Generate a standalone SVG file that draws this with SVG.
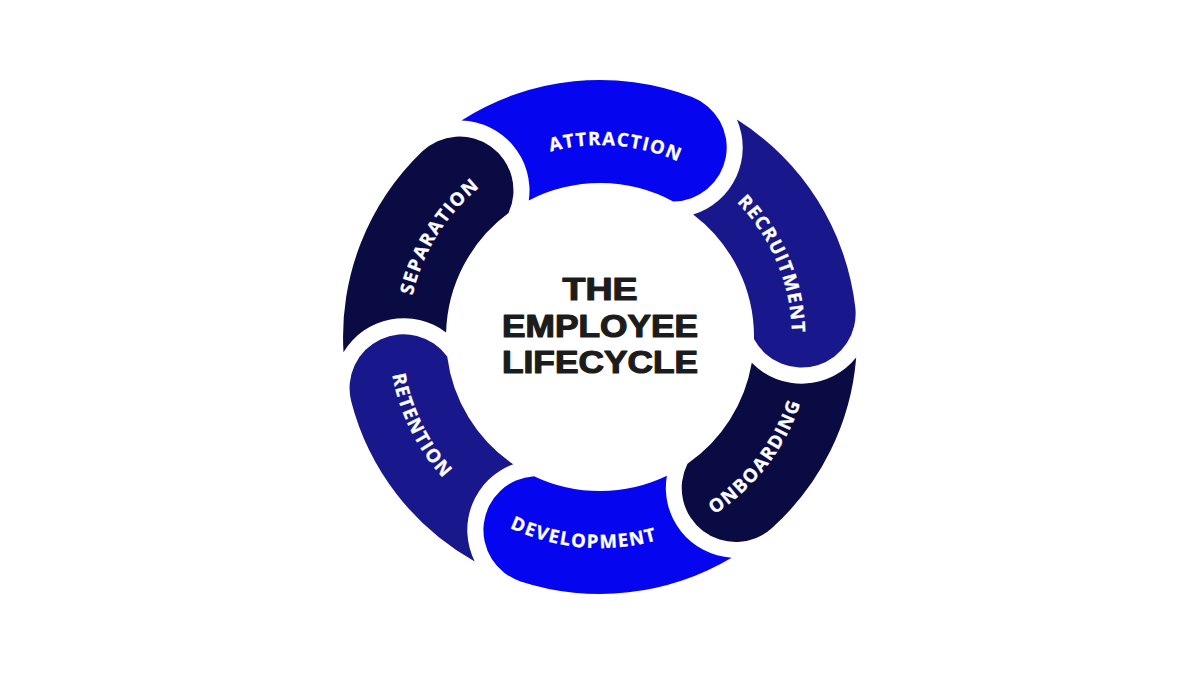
<svg xmlns="http://www.w3.org/2000/svg" width="1200" height="675" viewBox="0 0 1200 675">
  <style>
    .lbl { font-family: "Open Sans", "Liberation Sans", sans-serif; font-weight: 700; font-size: 18.5px; fill: #ffffff; stroke: #ffffff; stroke-width: 0.3px; letter-spacing: 1.4px; }
    .title { font-family: "Liberation Sans", Arial, sans-serif; font-weight: 700; font-size: 31px; fill: #1c1c1c; stroke: #1c1c1c; stroke-width: 1.2px; stroke-linejoin: round; text-anchor: middle; }
    .c1 { fill: #0505f0; }
    .c2 { fill: #18188c; }
    .c3 { fill: #0b0b44; }
  </style>
  <defs>
    <path id="tpA" d="M 442.2 227.7 A 192 192 0 0 1 773.6 254.9"/>
    <path id="tpRec" d="M 624.1 146.5 A 192 192 0 0 1 752.9 453.1"/>
    <path id="tpOnb" d="M 572.1 546.1 A 211 211 0 0 0 795.1 256.6"/>
    <path id="tpDev" d="M 409.2 427.2 A 211 211 0 0 0 773.5 457.1"/>
    <path id="tpRet" d="M 424.4 219.9 A 211 211 0 0 0 586.4 547.6"/>
    <path id="tpSep" d="M 430.5 427.1 A 192 192 0 0 1 606.7 145.1"/>
  </defs>
  <rect width="1200" height="675" fill="#ffffff"/>
  <g id="connectors"></g>
  <g id="attraction">
    <path class="c1" d="M 461.5 120.5 A 257 257 0 0 1 692.1 97.1 A 54 54 0 0 1 673.2 201.5 A 154 154 0 0 0 528.8 200.4 A 70 70 0 0 0 461.5 120.5 Z"/>
    <text class="lbl" text-anchor="middle"><textPath href="#tpA" startOffset="50%">ATTRACTION</textPath></text>
  </g>
  <g id="recruitment">
    <path class="c2" d="M 736.9 119.5 A 257 257 0 0 1 855.3 307.5 A 54 54 0 0 1 754.0 339.0 A 154 154 0 0 0 693.2 214.4 A 70 70 0 0 0 736.9 119.5 Z"/>
    <text class="lbl" text-anchor="middle"><textPath href="#tpRec" startOffset="50%">RECRUITMENT</textPath></text>
  </g>
  <g id="onboarding">
    <path class="c3" d="M 856.2 357.6 A 257 257 0 0 1 772.0 528.0 A 54 54 0 0 1 687.5 463.7 A 154 154 0 0 0 751.8 362.8 A 70 70 0 0 0 856.2 357.6 Z"/>
    <text class="lbl" text-anchor="middle"><textPath href="#tpOnb" startOffset="50%">ONBOARDING</textPath></text>
  </g>
  <g id="development">
    <path class="c1" d="M 731.6 557.7 A 257 257 0 0 1 520.6 581.4 A 54 54 0 0 1 534.0 476.2 A 154 154 0 0 0 666.9 475.7 A 70 70 0 0 0 731.6 557.7 Z"/>
    <text class="lbl" text-anchor="middle" letter-spacing="2"><textPath href="#tpDev" startOffset="50%">DEVELOPMENT</textPath></text>
  </g>
  <g id="retention">
    <path class="c2" d="M 474.7 561.4 A 257 257 0 0 1 351.3 401.8 A 54 54 0 0 1 447.2 356.4 A 154 154 0 0 0 513.3 464.3 A 70 70 0 0 0 474.7 561.4 Z"/>
    <text class="lbl" text-anchor="middle"><textPath href="#tpRet" startOffset="50%">RETENTION</textPath></text>
  </g>
  <g id="separation">
    <path class="c3" d="M 343.5 352.3 A 257 257 0 0 1 422.1 151.5 A 54 54 0 0 1 508.5 213.1 A 154 154 0 0 0 446.1 332.5 A 70 70 0 0 0 343.5 352.3 Z"/>
    <text class="lbl" text-anchor="middle"><textPath href="#tpSep" startOffset="50%">SEPARATION</textPath></text>
  </g>
  <g id="title">
    <text class="title" x="600" y="300" textLength="75" lengthAdjust="spacingAndGlyphs">THE</text>
    <text class="title" x="600" y="337" textLength="196" lengthAdjust="spacingAndGlyphs">EMPLOYEE</text>
    <text class="title" x="600" y="373" textLength="196" lengthAdjust="spacingAndGlyphs">LIFECYCLE</text>
  </g>
</svg>
